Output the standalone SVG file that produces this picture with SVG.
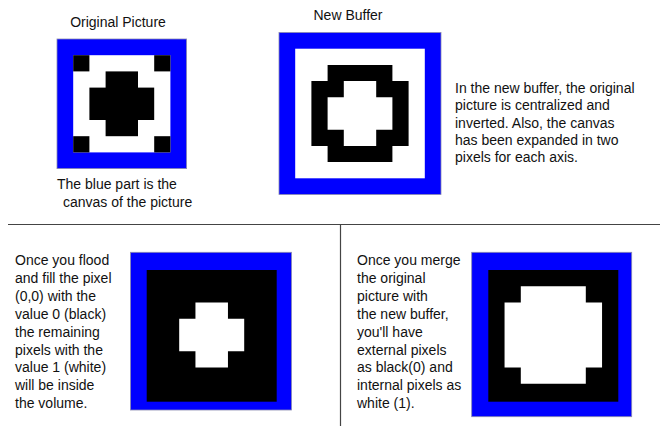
<svg xmlns="http://www.w3.org/2000/svg" width="660" height="426" viewBox="0 0 660 426">
<style>
.t{font-family:"Liberation Sans",Arial,sans-serif;font-size:14px;fill:#111}
.blue{fill:#0000ff;stroke:#8a8ab0;stroke-width:0.8}
.wh{fill:#ffffff}
.bk{fill:#000000}
.div{stroke:#444;stroke-width:1.2;fill:none}
</style>
<rect width="660" height="426" fill="#ffffff"/>
<g id="original-picture">
<text class="t" x="118" y="27" text-anchor="middle">Original Picture</text>
<rect class="blue" x="57" y="39" width="129.6" height="129.6"/>
<rect class="wh" x="73.2" y="55.2" width="97.2" height="97.2"/>
<g class="bk">
<rect x="73.2" y="55.2" width="16.2" height="16.2"/>
<rect x="154.2" y="55.2" width="16.2" height="16.2"/>
<rect x="73.2" y="136.2" width="16.2" height="16.2"/>
<rect x="154.2" y="136.2" width="16.2" height="16.2"/>
<rect x="105.6" y="71.4" width="32.4" height="64.8"/>
<rect x="89.4" y="87.6" width="64.8" height="32.4"/>
</g>
<text class="t" x="57" y="189">The blue part is the</text>
<text class="t" x="63" y="207">canvas of the picture</text>
</g>
<g id="new-buffer">
<text class="t" x="348" y="20" text-anchor="middle">New Buffer</text>
<rect class="blue" x="279" y="32.5" width="162" height="162"/>
<rect class="wh" x="295.2" y="48.7" width="129.6" height="129.6"/>
<path class="bk" fill-rule="evenodd" transform="translate(295.2 48.7) scale(16.2)" d="M2 1H6V2H7V6H6V7H2V6H1V2H2Z M3 2H5V3H6V5H5V6H3V5H2V3H3Z"/>
</g>
<g id="new-buffer-note">
<text class="t" x="455" y="93">In the new buffer, the original</text>
<text class="t" x="455" y="110.3">picture is centralized and</text>
<text class="t" x="455" y="127.6">inverted. Also, the canvas</text>
<text class="t" x="455" y="144.9">has been expanded in two</text>
<text class="t" x="455" y="162.2">pixels for each axis.</text>
</g>
<g id="flood-fill-note">
<text class="t" x="15" y="265">Once you flood</text>
<text class="t" x="15" y="282.9">and fill the pixel</text>
<text class="t" x="15" y="300.8">(0,0) with the</text>
<text class="t" x="15" y="318.7">value 0 (black)</text>
<text class="t" x="15" y="336.6">the remaining</text>
<text class="t" x="15" y="354.5">pixels with the</text>
<text class="t" x="15" y="372.4">value 1 (white)</text>
<text class="t" x="15" y="390.3">will be inside</text>
<text class="t" x="15" y="408.2">the volume.</text>
</g>
<g id="flood-fill-result">
<rect class="blue" x="130.5" y="252.3" width="161" height="157.7"/>
<rect class="bk" x="146.7" y="270" width="130" height="131.7"/>
<g class="wh">
<rect x="195.45" y="302.5" width="32.5" height="65"/>
<rect x="179.2" y="318.75" width="65" height="32.5"/>
</g>
</g>
<g id="merge-note">
<text class="t" x="357" y="265">Once you merge</text>
<text class="t" x="357" y="282.9">the original</text>
<text class="t" x="357" y="300.8">picture with</text>
<text class="t" x="357" y="318.7">the new buffer,</text>
<text class="t" x="357" y="336.6">you'll have</text>
<text class="t" x="357" y="354.5">external pixels</text>
<text class="t" x="357" y="372.4">as black(0) and</text>
<text class="t" x="357" y="390.3">internal pixels as</text>
<text class="t" x="357" y="408.2">white (1).</text>
</g>
<g id="merge-result">
<rect class="blue" x="471.7" y="252.3" width="160" height="164.4"/>
<rect class="bk" x="488.3" y="270" width="130" height="131.7"/>
<g class="wh">
<rect x="520.8" y="286.25" width="65" height="97.5"/>
<rect x="504.55" y="302.5" width="97.5" height="65"/>
</g>
</g>
<g id="connectors">
<line class="div" x1="8" y1="224.5" x2="660" y2="224.5"/>
<line class="div" x1="340.5" y1="224.5" x2="340.5" y2="426"/>
</g>
</svg>
